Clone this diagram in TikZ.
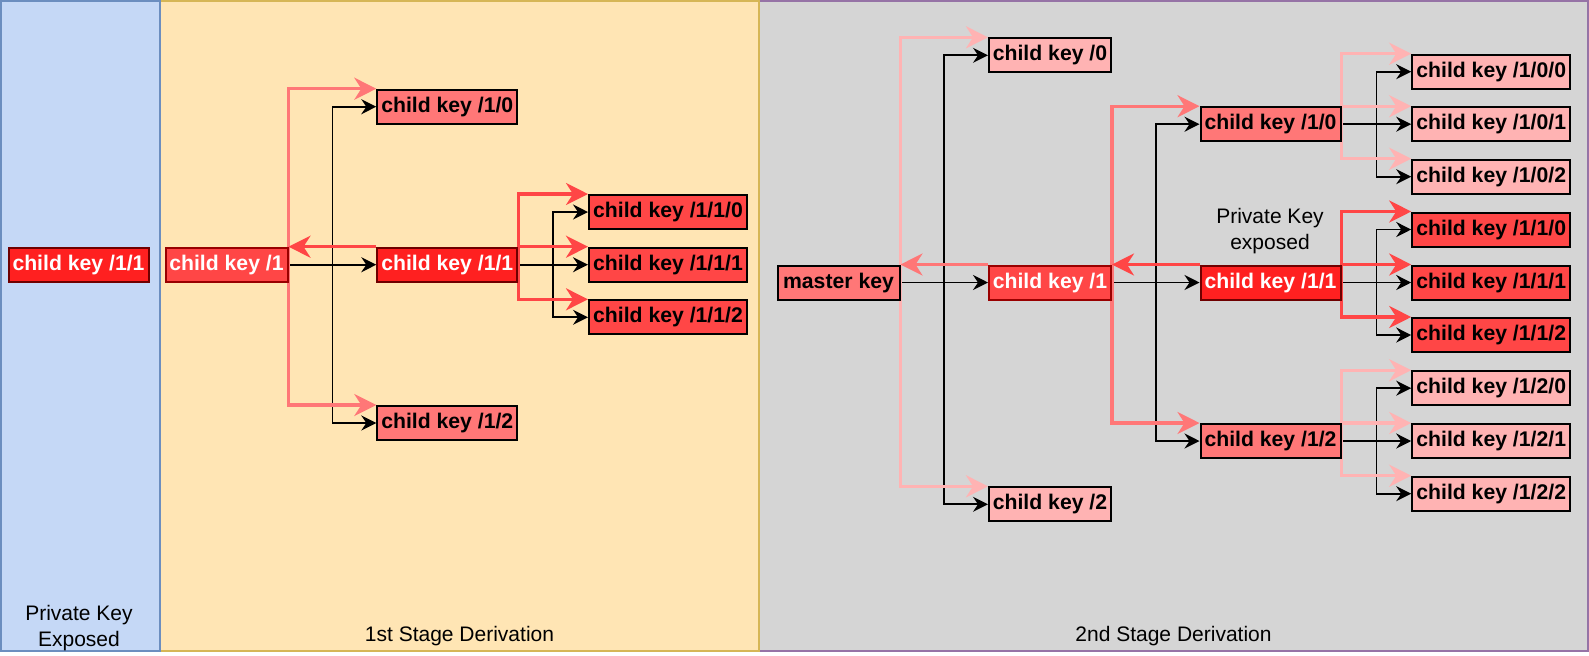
\documentclass[tikz,border=0pt]{standalone}
\usepackage{fontspec}
\setmainfont{Liberation Sans}
\usetikzlibrary{arrows.meta,calc}
\pgfdeclarelayer{panels}
\pgfdeclarelayer{wires}
\pgfsetlayers{panels,wires,main}
\definecolor{cLeftFill}{HTML}{C5D8F6}
\definecolor{cLeftLine}{HTML}{6C8EBF}
\definecolor{cMidFill}{HTML}{FFE5B4}
\definecolor{cMidLine}{HTML}{D6B656}
\definecolor{cRightFill}{HTML}{D5D5D5}
\definecolor{cRightLine}{HTML}{9673A6}
\definecolor{cHot}{HTML}{FF2020}
\definecolor{cHotLine}{HTML}{6F0000}
\definecolor{cWarm}{HTML}{FF4646}
\definecolor{cWarmLine}{HTML}{990000}
\definecolor{cMild}{HTML}{FF7777}
\definecolor{cPale}{HTML}{FFB3B3}
\begin{document}
\begin{tikzpicture}[x=0.5pt,y=-0.5pt,
  key/.style={draw=black, line width=1pt, inner sep=0pt, minimum height=17pt,
    text height=7.8pt, text depth=2.2pt, font=\bfseries\fontsize{10.6}{12.6}\selectfont},
  keyS/.style={key, minimum width=61pt},
  keyM/.style={key, minimum width=70pt},
  keyL/.style={key, minimum width=79pt},
  hot/.style={fill=cHot, draw=cHotLine, text=white},
  warmW/.style={fill=cWarm, draw=cWarmLine, text=white},
  warm/.style={fill=cWarm},
  mild/.style={fill=cMild},
  pale/.style={fill=cPale},
  note/.style={align=center, inner sep=0pt, font=\fontsize{10.5}{13.2}\selectfont},
  blk/.style={draw=black, line width=0.85pt, -{Stealth[length=7.5pt,width=7.5pt,inset=2.5pt]}},
  trail/.style={line width=1.6pt, -{Stealth[length=11pt,width=11pt,inset=3.5pt]}}]
\useasboundingbox (0,0) rectangle (1589,655);
\newcommand{\xMid}{447.3}
\newcommand{\xMidG}{668}
\newcommand{\xRgt}{1270.5}
\newcommand{\xRgtG}{1491.2}

\begin{pgfonlayer}{panels}
\draw[fill=cRightFill, draw=cRightLine, line width=1pt] (759,1) rectangle (1587.5,651);
\draw[fill=cMidFill, draw=cMidLine, line width=1pt] (160,1) rectangle (759,651);
\draw[fill=cLeftFill, draw=cLeftLine, line width=1pt] (1,1) rectangle (160,651);
\end{pgfonlayer}

\node[keyM, hot] (lKey) at (78.5,264.7) {child key /1/1};
\node[note] (lNote) at (79,628) {Private Key\\Exposed};

\node[keyS, warmW] (mOne) at (226.5,264.7) {child key /1};
\node[keyM, mild] (mA) at (\xMid,106.7) {child key /1/0};
\node[keyM, hot] (mB) at (\xMid,264.7) {child key /1/1};
\node[keyM, mild] (mC) at (\xMid,423) {child key /1/2};
\node[keyL, warm] (mBA) at (\xMidG,212) {child key /1/1/0};
\node[keyL, warm] (mBB) at (\xMidG,264.7) {child key /1/1/1};
\node[keyL, warm] (mBC) at (\xMidG,317.3) {child key /1/1/2};
\node[note] (mNote) at (459.5,636) {1st Stage Derivation};

\node[keyS, mild] (rMaster) at (838.5,282.5) {master key};
\node[keyS, pale] (rZero) at (1050,55.3) {child key /0};
\node[keyS, warmW] (rOne) at (1050,282.5) {child key /1};
\node[keyS, pale] (rTwo) at (1050,504.3) {child key /2};
\node[keyM, mild] (rOA) at (\xRgt,124.2) {child key /1/0};
\node[keyM, hot] (rOB) at (\xRgt,282.5) {child key /1/1};
\node[keyM, mild] (rOC) at (\xRgt,441) {child key /1/2};
\node[keyL, pale] (rOAa) at (\xRgtG,71.7) {child key /1/0/0};
\node[keyL, pale] (rOAb) at (\xRgtG,124.2) {child key /1/0/1};
\node[keyL, pale] (rOAc) at (\xRgtG,176.7) {child key /1/0/2};
\node[keyL, warm] (rOBa) at (\xRgtG,229.5) {child key /1/1/0};
\node[keyL, warm] (rOBb) at (\xRgtG,282.5) {child key /1/1/1};
\node[keyL, warm] (rOBc) at (\xRgtG,335) {child key /1/1/2};
\node[keyL, pale] (rOCa) at (\xRgtG,388.2) {child key /1/2/0};
\node[keyL, pale] (rOCb) at (\xRgtG,441) {child key /1/2/1};
\node[keyL, pale] (rOCc) at (\xRgtG,493.7) {child key /1/2/2};
\node[note] (rNote) at (1270,231) {Private Key\\exposed};
\node[note] (rLabel) at (1173.5,636) {2nd Stage Derivation};

\begin{pgfonlayer}{wires}
\foreach \p/\c in {mOne/mA, mOne/mB, mOne/mC, mB/mBA, mB/mBB, mB/mBC,
  rMaster/rZero, rMaster/rOne, rMaster/rTwo, rOne/rOA, rOne/rOB, rOne/rOC,
  rOA/rOAa, rOA/rOAb, rOA/rOAc, rOB/rOBa, rOB/rOBb, rOB/rOBc,
  rOC/rOCa, rOC/rOCb, rOC/rOCc}
{
    \draw[blk] (\p.east) -| ($(\p.east)!0.5!(\c.west)$) |- (\c.west);
};
\foreach \p/\c/\k in {mOne/mA/cMild, mOne/mC/cMild, mB/mBA/cWarm, mB/mBB/cWarm, mB/mBC/cWarm,
  rMaster/rZero/cPale, rMaster/rTwo/cPale, rOne/rOA/cMild, rOne/rOC/cMild,
  rOA/rOAa/cPale, rOA/rOAb/cPale, rOA/rOAc/cPale, rOB/rOBa/cWarm, rOB/rOBb/cWarm, rOB/rOBc/cWarm,
  rOC/rOCa/cPale, rOC/rOCb/cPale, rOC/rOCc/cPale}
{
    \draw[trail, draw=\k] (\p.north east) |- (\c.north west);
};
\foreach \c/\p/\k in {mB/mOne/cWarm, rOne/rMaster/cMild, rOB/rOne/cWarm}
{
    \draw[trail, draw=\k] (\c.north west) -- (\p.north east);
};
\end{pgfonlayer}

\end{tikzpicture}
\end{document}
